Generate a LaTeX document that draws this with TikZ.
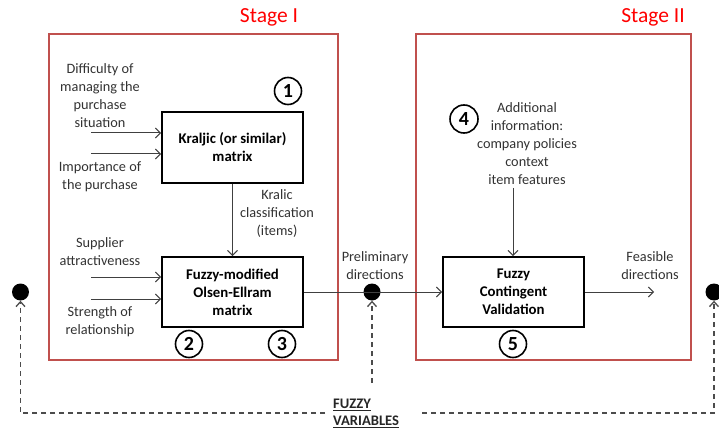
\documentclass[tikz,border=0pt]{standalone}
\usepackage{fontspec}
\setmainfont{Carlito}
\usetikzlibrary{arrows.meta}
\definecolor{stagered}{RGB}{192,80,77}
\definecolor{txtgray}{RGB}{50,50,50}
\begin{document}
\begin{tikzpicture}[x=1pt,y=-1pt,
  lbl/.style={align=center, font=\fontsize{14.3}{18}\selectfont, text=txtgray, inner sep=0},
  mbox/.style={draw, line width=1.8pt, minimum width=141pt, minimum height=70pt, inner sep=0, align=center, font=\bfseries\fontsize{14.8}{18}\selectfont},
  stagebox/.style={draw=stagered, line width=1.6pt, inner sep=0, anchor=north west},
  stagelbl/.style={text=red, font=\fontsize{21.5}{21.5}\selectfont, inner sep=0},
  num/.style={circle, draw, fill=white, line width=1.6pt, minimum size=27pt, inner sep=0, font=\bfseries\fontsize{20}{20}\selectfont},
  arr/.style={draw=black!75, line width=1pt, -{Straight Barb[length=5pt,width=10pt]}},
  plain/.style={draw=black!75, line width=1pt},
  dasharr/.style={draw=black!70, line width=1.3pt, dash pattern=on 5pt off 4pt, -{Straight Barb[length=5pt,width=9pt]}},
  dot/.style={circle, fill=black, minimum size=17pt, inner sep=0}
]
\useasboundingbox (0,0) rectangle (719,430);

% stage frames
\node[stagebox, minimum width=289pt, minimum height=326pt] (s1) at (48,33) {};
\node[stagebox, minimum width=275pt, minimum height=326pt] (s2) at (415,33) {};
\node[stagelbl] (t1) at (269,17) {Stage I};
\node[stagelbl] (t2) at (653,17) {Stage II};

% main boxes
\node[mbox, minimum height=71pt] (kr) at (232.5,147.5) {Kraljic (or similar)\\matrix};
\node[mbox] (fm) at (232.5,292) {Fuzzy-modified\\Olsen-Ellram\\matrix};
\node[mbox] (fcv) at (513.5,292) {Fuzzy\\Contingent\\Validation};

% numbers
\node[num] (n1) at (288,91) {1};
\node[num] (n2) at (189,344) {2};
\node[num] (n3) at (282,344) {3};
\node[num, minimum size=28pt] (n4) at (464,119) {4};
\node[num] (n5) at (513,344) {5};

% labels
\node[lbl] (ldiff) at (100,96) {Difficulty of\\managing the\\purchase\\situation};
\node[lbl] (limp) at (100,177) {Importance of\\the purchase};
\node[lbl] (lsup) at (100,252) {Supplier\\attractiveness};
\node[lbl] (lstr) at (100,322) {Strength of\\relationship};
\node[lbl] (lkr) at (277,214) {Kralic\\classification\\(items)};
\node[lbl] (lpre) at (375,265.5) {Preliminary\\directions};
\node[lbl] (lfeas) at (650,265.5) {Feasible\\directions};
\node[lbl] (ladd) at (527,144) {Additional\\information:\\company policies\\context\\item features};
\node[lbl, anchor=west, align=left, text=black!85, font=\bfseries\fontsize{14.6}{17}\selectfont] (lfz) at (333,413.5) {\underline{FUZZY}\\\underline{VARIABLES}};

% dots
\node[dot] (dp) at (372,292) {};
\node[dot] (dl) at (20.5,292) {};
\node[dot] (dr) at (714,292) {};

% input coordinates
\coordinate (i1) at (91,133);
\coordinate (i2) at (91,154);
\coordinate (i3) at (91,277);
\coordinate (i4) at (91,299);
\coordinate (ai) at (513,188);
\coordinate (fe) at (654,292);
\coordinate (fzup) at (372,383);
\coordinate (fzl) at (325,413);
\coordinate (fzr) at (422,413);

% solid connectors
\draw[arr] (i1) -- (i1 -| kr.west);
\draw[arr] (i2) -- (i2 -| kr.west);
\draw[arr] (i3) -- (i3 -| fm.west);
\draw[arr] (i4) -- (i4 -| fm.west);
\draw[arr] (kr.south) -- (fm.north);
\draw[plain] (fm.east) -- (dp.center);
\draw[arr] (dp.center) -- (fcv.west);
\draw[arr] (ai) -- (ai |- fcv.north);
\draw[arr] (fcv.east) -- (fe);

% dashed connectors
\draw[dasharr] (fzup) -- (dp.south);
\draw[dasharr] (fzl) -- (fzl -| dl) -- (dl.south);
\draw[dasharr] (fzr) -- (fzr -| dr) -- (dr.south);
\end{tikzpicture}
\end{document}
